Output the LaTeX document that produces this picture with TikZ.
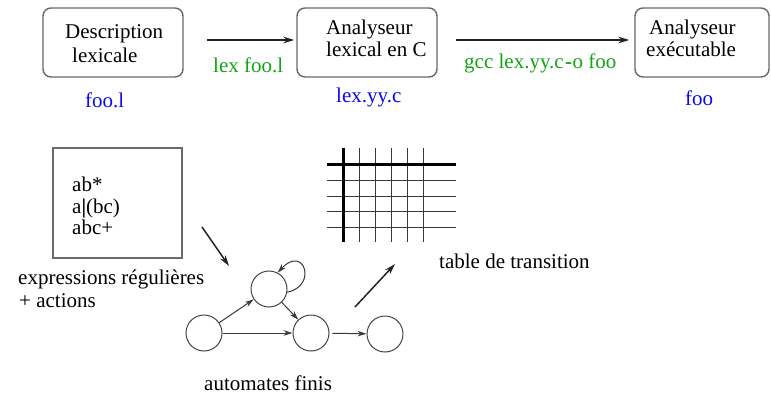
\documentclass[tikz,border=0pt]{standalone}
\usepackage{fontspec}
\newfontfamily\labelfont{Liberation Serif}
\usetikzlibrary{arrows.meta}
\definecolor{cmdgreen}{RGB}{20,165,20}
\definecolor{fileblue}{RGB}{10,10,235}
\definecolor{boxline}{RGB}{105,105,105}
\definecolor{ink}{RGB}{35,35,35}
\tikzset{
  stage/.style={draw=boxline, line width=1.4pt, rounded corners=8pt, inner sep=0pt},
  txt/.style={anchor=base west, inner sep=0pt, font=\labelfont\fontsize{21}{24}\selectfont},
  cmd/.style={txt, text=cmdgreen},
  file/.style={txt, text=fileblue},
  flow/.style={draw=ink, line width=1.5pt, -{Stealth[length=11pt,width=6.5pt]}},
  state/.style={draw=ink!85, line width=1pt, circle, minimum size=36pt, inner sep=0pt},
  trans/.style={draw=ink!90, line width=1pt, -{Stealth[length=9pt,width=5.5pt]}},
  gridthin/.style={draw=ink!90, line width=1pt},
  gridthick/.style={draw=black, line width=3pt}
}
\begin{document}
\begin{tikzpicture}[x=1pt, y=-1pt]
\useasboundingbox (0,0) rectangle (771,396);

% --- texts first
\node[txt] (d1) at (65,39) {Description};
\node[txt] (d2) at (72,63) {lexicale};
\node[txt] (g1) at (326,35) {Analyseur};
\node[txt] (g2) at (326,57) {lexical en C};
\node[txt] (e1) at (649,35) {Analyseur};
\node[txt] (e2) at (646,57) {exécutable};
\node[file] (f1) at (85,107) {foo.l};
\node[file] (f2) at (336,102) {lex.yy.c};
\node[file] (f3) at (685,106) {foo};
\node[cmd] (c1) at (213,73) {lex foo.l};
\node[cmd] (c2) at (464,68) {gcc lex.yy.c\kern1.5pt{\bfseries -}\kern0.5pt o foo};
\node[txt] (r1) at (72,191) {ab*};
\node[txt] (r2) at (72,213) {a{\bfseries |}(bc)};
\node[txt] (r3) at (72,234) {abc+};
\node[txt] (rl1) at (18,284) {expressions régulières};
\node[txt] (rl2) at (19,307) {+ actions};
\node[txt] (al) at (204,390) {automates finis};
\node[txt] (tl) at (439,268) {table de transition};

% --- chain: source, generated C file, executable
\node[stage, minimum width=140pt, minimum height=69pt] (desc) at (113,42.5) {};
\node[stage, minimum width=140pt, minimum height=69pt] (gen)  at (367,42.5) {};
\node[stage, minimum width=134pt, minimum height=69pt] (exe)  at (702,42.5) {};
\coordinate (a1) at (207,40);
\coordinate (a2) at (456,40);
\draw[flow] (a1) -- ([xshift=-2pt]a1 -| gen.west);
\draw[flow] (a2) -- ([xshift=-5pt]a2 -| exe.west);

% --- regular expressions
\node[draw=boxline, line width=1.2pt, minimum width=129pt, minimum height=110pt, inner sep=0pt] (rx) at (117.5,203) {};

% --- finite automaton
\node[state] (A) at (204,333) {};
\node[state] (B) at (269,289) {};
\node[state] (C) at (311,333) {};
\node[state] (D) at (385,334) {};
\draw[trans] (A) -- (B);
\draw[trans] (A) -- (C);
\draw[trans] (B) -- (C);
\draw[trans, shorten <=3pt] (C) -- (D);
\draw[trans] (B.-10) .. controls (318,286) and (304,244) .. (B.62);

\coordinate (p1) at (202,227);
\coordinate (p2) at (229,266);
\draw[flow] (p1) -- (p2);
\coordinate (q1) at (355,307);
\coordinate (q2) at (395,264);
\draw[flow] (q1) -- (q2);

% --- transition table
\foreach \x in {359,375,391,407,423} \draw[gridthin] (\x,148) -- (\x,242);
\foreach \y in {180,196,211,227} \draw[gridthin] (327,\y) -- (456,\y);
\draw[gridthick] (343,148) -- (343,242);
\draw[gridthick] (327,164) -- (456,164);
\end{tikzpicture}
\end{document}
